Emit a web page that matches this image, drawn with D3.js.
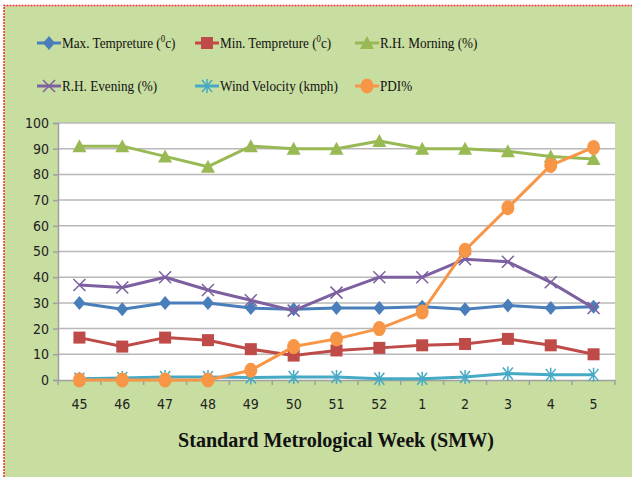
<!DOCTYPE html>
<html>
<head>
<meta charset="utf-8">
<script src="https://cdn.jsdelivr.net/npm/d3@7"></script>
<style>
  body { margin: 0; background: #fff; }
  svg { display: block; }
</style>
</head>
<body>
<div class="container"></div>
<script>
var weeks = ["45", "46", "47", "48", "49", "50", "51", "52", "1", "2", "3", "4", "5"];
var maxTemp = [30, 27.5, 30, 30, 28, 27.5, 28, 28, 28.5, 27.5, 29, 28, 28.5];
var minTemp = [16.5, 13, 16.5, 15.5, 12, 9.5, 11.5, 12.5, 13.5, 14, 16, 13.5, 10];
var rhMorning = [91, 91, 87, 83, 91, 90, 90, 93, 90, 90, 89, 87, 86];
var rhEvening = [37, 36, 40, 35, 31, 27, 34, 40, 40, 47, 46, 38, 28];
var windVel = [0.5, 0.8, 1.2, 1.2, 1, 1.2, 1.2, 0.5, 0.5, 1.2, 2.5, 2, 2];
var pdi = [0, 0, 0, 0, 3.8, 13, 16, 20, 26.5, 50.5, 67, 83.5, 90.5];
var yTicks = [0, 10, 20, 30, 40, 50, 60, 70, 80, 90, 100];

var series = [
  {name: "Max. Tempreture (", sup: "0", tail: "c)", values: maxTemp, color: "#4a7ebb", marker: "diamond"},
  {name: "Min. Tempreture (", sup: "0", tail: "c)", values: minTemp, color: "#be4b48", marker: "square"},
  {name: "R.H. Morning (%)", values: rhMorning, color: "#98b954", marker: "triangle"},
  {name: "R.H. Evening (%)", values: rhEvening, color: "#7d60a0", marker: "x"},
  {name: "Wind Velocity (kmph)", values: windVel, color: "#46aac5", marker: "star"},
  {name: "PDI%", values: pdi, color: "#f79646", marker: "circle"}
];

var W = 632, H = 477;
var margin = {top: 123, right: 17, bottom: 97, left: 58};

var svg = d3.select(".container").append("svg")
  .attr("width", W)
  .attr("height", H);

// green panel with red dotted frame
svg.append("rect")
  .attr("x", 4).attr("y", 6)
  .attr("width", W - 4).attr("height", H - 6)
  .attr("fill", "#c8dda0");
svg.append("path")
  .attr("d", "M4," + H + "V5.5H" + W)
  .attr("fill", "none")
  .attr("stroke", "#f03030")
  .attr("stroke-width", 1.5)
  .attr("stroke-dasharray", "2,1");

var x = d3.scaleBand().domain(weeks).range([margin.left, W - margin.right]);
var y = d3.scaleLinear().domain([0, 100]).range([H - margin.bottom, margin.top]);

// plot area
svg.append("rect")
  .attr("x", margin.left).attr("y", margin.top)
  .attr("width", W - margin.right - margin.left)
  .attr("height", H - margin.bottom - margin.top)
  .attr("fill", "#fff");

// gridlines
svg.append("g")
  .selectAll("line")
  .data(yTicks.slice(1))
  .enter().append("line")
  .attr("x1", margin.left).attr("x2", W - margin.right)
  .attr("y1", function(d) { return y(d); })
  .attr("y2", function(d) { return y(d); })
  .attr("stroke", "#b8b8b8")
  .attr("stroke-width", 1.5);

// y axis
var yAxis = d3.axisLeft(y).tickValues(yTicks).tickSize(5).tickPadding(4);
var gy = svg.append("g")
  .attr("transform", "translate(" + margin.left + ",0)")
  .call(yAxis);
gy.selectAll("path, line").attr("stroke", "#a0a0a0").attr("stroke-width", 1.5);
gy.selectAll("text")
  .style("font", "14px 'DejaVu Sans Condensed', 'Open Sans', sans-serif")
  .attr("fill", "#222");

// x axis
var xAxis = d3.axisBottom(x).tickSize(0).tickPadding(19);
var gx = svg.append("g")
  .attr("transform", "translate(0," + y(0) + ")")
  .call(xAxis);
gx.select("path").attr("stroke", "#a0a0a0").attr("stroke-width", 1.5);
gx.selectAll("text")
  .style("font", "14px 'DejaVu Sans Condensed', 'Open Sans', sans-serif")
  .attr("fill", "#222");
// tick marks between categories
gx.selectAll(".sep")
  .data(weeks.concat(["end"]))
  .enter().append("line")
  .attr("class", "sep")
  .attr("x1", function(d, i) { return margin.left + i * x.step(); })
  .attr("x2", function(d, i) { return margin.left + i * x.step(); })
  .attr("y1", 0).attr("y2", 5)
  .attr("stroke", "#a0a0a0").attr("stroke-width", 1.5);

// axis title
svg.append("text")
  .attr("x", 336).attr("y", 447)
  .attr("text-anchor", "middle")
  .style("font", "bold 21px 'Liberation Serif', serif")
  .attr("textLength", 316)
  .attr("lengthAdjust", "spacingAndGlyphs")
  .attr("fill", "#111")
  .text("Standard Metrological Week (SMW)");

function drawMarker(g, type, color) {
  if (type === "diamond") {
    g.append("path").attr("d", "M0,-7L6,0L0,7L-6,0Z").attr("fill", color);
  } else if (type === "square") {
    g.append("rect").attr("x", -6).attr("y", -6).attr("width", 12).attr("height", 12).attr("fill", color);
  } else if (type === "triangle") {
    g.append("path").attr("d", "M0,-7L7,6L-7,6Z").attr("fill", color);
  } else if (type === "x") {
    g.append("path").attr("d", "M-6,-6L6,6M-6,6L6,-6").attr("stroke", color).attr("stroke-width", 1.5);
  } else if (type === "star") {
    g.append("path").attr("d", "M-5,-6L5,6M-5,6L5,-6M0,-7V7").attr("stroke", color).attr("stroke-width", 1.5);
  } else if (type === "circle") {
    g.append("ellipse").attr("rx", 6.5).attr("ry", 7.5).attr("fill", color);
  }
}

var line = d3.line()
  .x(function(d, i) { return x(weeks[i]) + x.bandwidth() / 2; })
  .y(function(d) { return y(d); });

series.forEach(function(s) {
  var g = svg.append("g");
  g.append("path")
    .attr("d", line(s.values))
    .attr("fill", "none")
    .attr("stroke", s.color)
    .attr("stroke-width", 3)
    .attr("stroke-linejoin", "round");
  g.selectAll(".m")
    .data(s.values)
    .enter().append("g")
    .attr("class", "m")
    .attr("transform", function(d, i) {
      return "translate(" + (x(weeks[i]) + x.bandwidth() / 2) + "," + y(d) + ")";
    })
    .each(function() { drawMarker(d3.select(this), s.marker, s.color); });
});

// legend
var legX = [37, 195, 355];
var legY = [43, 86];
series.forEach(function(s, i) {
  var lx = legX[i % 3], ly = legY[Math.floor(i / 3)];
  var g = svg.append("g").attr("transform", "translate(" + lx + "," + ly + ")");
  g.append("line").attr("x1", 0).attr("x2", 24).attr("y1", 0).attr("y2", 0)
    .attr("stroke", s.color).attr("stroke-width", 3);
  var m = g.append("g").attr("transform", "translate(12,0)");
  drawMarker(m, s.marker, s.color);
  var t = g.append("text")
    .attr("transform", "translate(25,5) scale(0.88,1)")
    .style("font", "15px 'Liberation Serif', serif")
    .attr("fill", "#111");
  t.append("tspan").text(s.name);
  if (s.sup) {
    t.append("tspan").attr("dy", -6).style("font-size", "10px").text(s.sup);
    t.append("tspan").attr("dy", 6).text(s.tail);
  }
});
</script>
</body>
</html>
